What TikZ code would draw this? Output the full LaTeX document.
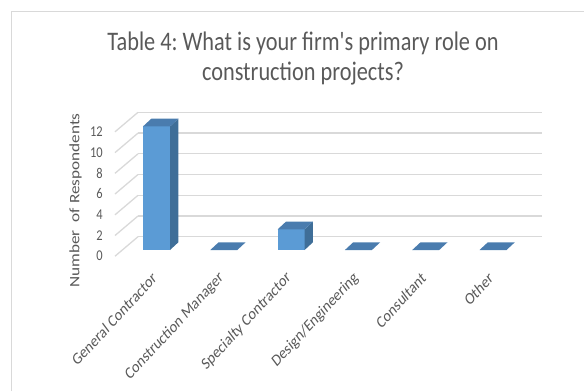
\documentclass[tikz,border=0pt]{standalone}
\usepackage{fontspec}
\setmainfont{Carlito}
\frenchspacing
\usetikzlibrary{positioning}
\definecolor{txtgray}{HTML}{595959}
\definecolor{gridgray}{HTML}{D9D9D9}
\definecolor{barfront}{HTML}{5B9BD5}
\definecolor{barside}{HTML}{3F6E98}
\definecolor{bartop}{HTML}{4A7CAE}

\begin{document}
\begin{tikzpicture}[x=1bp, y=-1bp]
\useasboundingbox (0,0) rectangle (584,391);
\draw[gridgray, line width=1bp] (11.5,391) -- (11.5,11) -- (584,11);

\begin{scope}[every path/.style={draw=gridgray, line width=1.3bp}]
    \path (138,236.7) -- (542,236.7);
    \path (138,216.0) -- (542,216.0);
    \path (138,195.3) -- (542,195.3);
    \path (138,174.5) -- (542,174.5);
    \path (138,153.8) -- (542,153.8);
    \path (138,133.1) -- (542,133.1);
    \path (138,112.3) -- (542,112.3);
    \path (138,236.7) -- (115,256.2);
    \path (138,216.0) -- (115,235.5);
    \path (138,195.3) -- (115,214.8);
    \path (138,174.5) -- (115,194.0);
    \path (138,153.8) -- (115,173.3);
    \path (138,133.1) -- (115,152.6);
    \path (138,112.3) -- (115,131.8);
\end{scope}

\begin{scope}[front/.style={fill=barfront},
    side/.style={fill=barside},
    top/.style={fill=bartop}]
    \path[front] (143,250) rectangle (170,126.4);
    \path[side] (170,250) -- (178.3,242.3) -- (178.3,118.7) -- (170,126.4) -- cycle;
    \path[top] (143,126.4) -- (170,126.4) -- (178.3,118.7) -- (151.3,118.7) -- cycle;
    \path[top] (210.3,250) -- (237.3,250) -- (245.6,242.3) -- (218.6,242.3) -- cycle;
    \path[front] (277.6,250) rectangle (304.6,229.4);
    \path[side] (304.6,250) -- (312.9,242.3) -- (312.9,221.7) -- (304.6,229.4) -- cycle;
    \path[top] (277.6,229.4) -- (304.6,229.4) -- (312.9,221.7) -- (285.9,221.7) -- cycle;
    \path[top] (344.9,250) -- (371.9,250) -- (380.2,242.3) -- (353.2,242.3) -- cycle;
    \path[top] (412.2,250) -- (439.2,250) -- (447.5,242.3) -- (420.5,242.3) -- cycle;
    \path[top] (479.5,250) -- (506.5,250) -- (514.8,242.3) -- (487.8,242.3) -- cycle;
\end{scope}

\begin{scope}[every node/.style={text=txtgray, inner sep=0pt},
    tick/.style={anchor=east, yscale=1.2, font=\fontsize{12.5}{14}\selectfont},
    cat/.style={anchor=east, yscale=1.2, rotate=42, font=\fontsize{14}{16}\selectfont}]
    \node[anchor=base, yscale=1.2, font=\fontsize{22.4}{25}\selectfont] (a) at (303,50.7) {Table 4: What is your firm\textquotesingle s primary role on};
    \node[anchor=base, yscale=1.2, font=\fontsize{22.4}{25}\selectfont] (b) at (303,80) {construction projects?};
    \node[rotate=90, xscale=1.2, font=\fontsize{14.4}{16}\selectfont] (c) at (75.5,200.5) {Number\ \ of Respondents};
    \node[tick] (d) at (103,256.0) {0};
    \node[tick] (e) at (103,235.3) {2};
    \node[tick] (f) at (103,214.6) {4};
    \node[tick] (g) at (103,193.8) {6};
    \node[tick] (h) at (103,173.1) {8};
    \node[tick] (i) at (103,152.4) {10};
    \node[tick] (j) at (103,131.7) {12};
    \node[cat] (k) at (154.5,275.5) {General Contractor};
    \node[cat] (l) at (221.8,275.5) {Construction Manager};
    \node[cat] (m) at (289.1,275.5) {Specialty Contractor};
    \node[cat] (n) at (356.4,275.5) {Design/Engineering};
    \node[cat] (o) at (423.7,275.5) {Consultant};
    \node[cat] (p) at (491,275.5) {Other};
\end{scope}
\end{tikzpicture}
\end{document}
